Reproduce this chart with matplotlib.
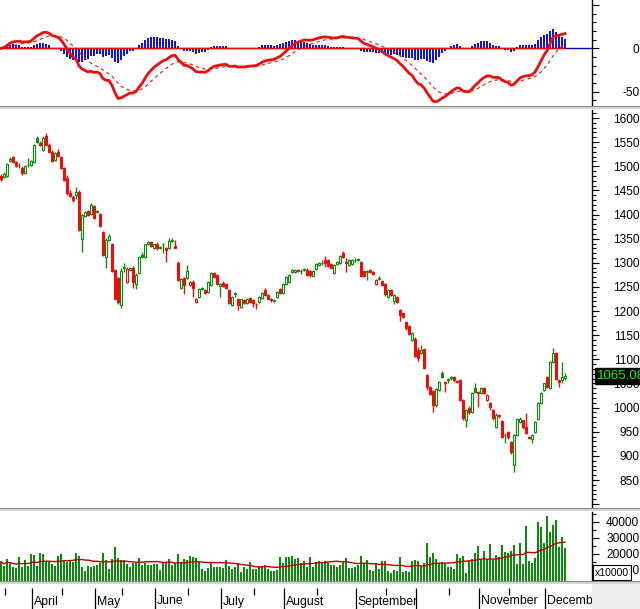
import numpy as np
import pandas as pd
import matplotlib
matplotlib.use("Agg")
import matplotlib.pyplot as plt
from matplotlib.patches import Rectangle

plt.rcParams['font.family'] = ['Liberation Sans', 'DejaVu Sans']

# ---- data ----
month_starts = [11, 32, 52, 74, 95, 119, 139, 160, 182]
month_labels = ['April', 'May', 'June', 'July', 'August', 'September', '', 'November', 'December']
minor_ticks = [2, 21, 41, 63, 85, 106, 129, 150, 170]

opens = [1480, 1478, 1480, 1511, 1519, 1508, 1502, 1497, 1487, 1503,
         1502, 1509, 1559, 1548, 1534, 1563, 1545, 1530, 1513, 1530,
         1519, 1497, 1475, 1444, 1437, 1440, 1447, 1350, 1398, 1407,
         1402, 1418, 1406, 1402, 1363, 1313, 1347, 1340, 1285, 1268,
         1213, 1290, 1260, 1286, 1290, 1257, 1278, 1317, 1313, 1339,
         1343, 1330, 1340, 1330, 1338, 1330, 1330, 1345, 1335, 1299,
         1248, 1268, 1268, 1255, 1260, 1219, 1229, 1245, 1244, 1240,
         1254, 1278, 1274, 1251, 1258, 1257, 1244, 1212, 1236, 1226,
         1209, 1223, 1216, 1228, 1222, 1215, 1219, 1228, 1244, 1233,
         1226, 1221, 1230, 1245, 1237, 1257, 1261, 1281, 1281, 1286,
         1283, 1285, 1285, 1283, 1273, 1288, 1296, 1300, 1306, 1305,
         1298, 1278, 1297, 1300, 1320, 1301, 1296, 1298, 1305, 1305,
         1302, 1282, 1281, 1285, 1281, 1256, 1267, 1263, 1256, 1230,
         1244, 1221, 1230, 1202, 1195, 1178, 1169, 1141, 1143, 1119,
         1114, 1121, 1067, 1043, 1035, 1005, 1036, 1072, 1054, 1058,
         1062, 1064, 1056, 1057, 1016, 974, 1000, 991, 1040, 1032,
         1030, 1041, 1016, 1010, 995, 960, 984, 972, 943, 950,
         929, 881, 943, 970, 974, 960, 939, 934, 950, 976,
         1009, 1037, 1063, 1040, 1095, 1114, 1057, 1058, 1062]
highs = [1484, 1489, 1506, 1520, 1522, 1510, 1506, 1500, 1503, 1517,
         1514, 1546, 1562, 1553, 1562, 1568, 1548, 1534, 1530, 1536,
         1521, 1499, 1482, 1450, 1440, 1457, 1450, 1402, 1407, 1410,
         1423, 1420, 1410, 1404, 1366, 1352, 1360, 1342, 1287, 1270,
         1290, 1300, 1292, 1292, 1293, 1278, 1315, 1322, 1340, 1346,
         1346, 1340, 1343, 1335, 1342, 1332, 1351, 1352, 1347, 1304,
         1268, 1270, 1295, 1262, 1265, 1228, 1247, 1250, 1246, 1263,
         1280, 1280, 1276, 1258, 1262, 1259, 1246, 1232, 1240, 1228,
         1226, 1225, 1228, 1230, 1226, 1217, 1232, 1240, 1247, 1235,
         1228, 1224, 1242, 1247, 1259, 1272, 1277, 1287, 1288, 1288,
         1288, 1290, 1290, 1286, 1286, 1299, 1301, 1305, 1314, 1307,
         1300, 1297, 1304, 1316, 1324, 1310, 1307, 1307, 1309, 1309,
         1304, 1284, 1285, 1287, 1283, 1266, 1272, 1265, 1258, 1246,
         1246, 1235, 1232, 1204, 1197, 1180, 1172, 1156, 1146, 1125,
         1130, 1123, 1069, 1045, 1037, 1040, 1056, 1076, 1056, 1062,
         1066, 1066, 1058, 1059, 1018, 998, 1003, 1032, 1050, 1034,
         1042, 1043, 1028, 1012, 997, 988, 986, 974, 948, 952,
         931, 945, 978, 980, 975, 988, 941, 945, 973, 1011,
         1033, 1052, 1066, 1097, 1123, 1116, 1059, 1095, 1072]
lows = [1470, 1475, 1478, 1508, 1506, 1499, 1497, 1482, 1485, 1498,
        1500, 1507, 1549, 1542, 1532, 1543, 1527, 1508, 1511, 1520,
        1495, 1469, 1440, 1436, 1426, 1433, 1365, 1322, 1395, 1398,
        1400, 1390, 1404, 1375, 1315, 1290, 1345, 1280, 1224, 1214,
        1207, 1280, 1258, 1283, 1248, 1245, 1276, 1310, 1311, 1337,
        1333, 1328, 1326, 1328, 1320, 1302, 1328, 1343, 1330, 1262,
        1246, 1236, 1266, 1252, 1230, 1216, 1227, 1243, 1236, 1238,
        1252, 1268, 1254, 1230, 1250, 1245, 1214, 1210, 1230, 1202,
        1207, 1215, 1214, 1217, 1208, 1205, 1217, 1226, 1231, 1224,
        1218, 1218, 1228, 1235, 1235, 1255, 1259, 1279, 1279, 1280,
        1277, 1283, 1273, 1271, 1271, 1286, 1294, 1296, 1292, 1292,
        1287, 1276, 1295, 1298, 1311, 1280, 1294, 1296, 1302, 1303,
        1271, 1270, 1265, 1278, 1275, 1254, 1264, 1252, 1231, 1228,
        1231, 1214, 1217, 1180, 1186, 1160, 1150, 1139, 1105, 1096,
        1112, 1081, 1037, 1026, 990, 1002, 1034, 1062, 1033, 1050,
        1058, 1054, 1050, 1014, 975, 960, 987, 989, 1031, 1002,
        1028, 1028, 1014, 996, 975, 957, 979, 938, 926, 935,
        903, 867, 941, 968, 955, 945, 934, 926, 948, 974,
        1007, 1035, 1041, 1038, 1093, 1057, 1042, 1052, 1058]
closes = [1473, 1485, 1504, 1516, 1509, 1501, 1503, 1487, 1501, 1502,
          1511, 1544, 1551, 1545, 1559, 1545, 1529, 1510, 1527, 1522,
          1497, 1471, 1444, 1439, 1430, 1447, 1368, 1399, 1405, 1400,
          1420, 1393, 1408, 1377, 1317, 1347, 1356, 1282, 1226, 1219,
          1283, 1292, 1288, 1289, 1261, 1275, 1313, 1313, 1338, 1343,
          1335, 1338, 1330, 1333, 1340, 1327, 1345, 1347, 1330, 1264,
          1266, 1255, 1282, 1260, 1247, 1226, 1245, 1248, 1238, 1261,
          1278, 1270, 1256, 1257, 1252, 1247, 1216, 1230, 1237, 1212,
          1224, 1217, 1226, 1219, 1217, 1214, 1230, 1238, 1233, 1226,
          1222, 1222, 1240, 1237, 1257, 1270, 1275, 1285, 1286, 1282,
          1283, 1288, 1275, 1274, 1284, 1297, 1299, 1300, 1299, 1294,
          1289, 1295, 1302, 1314, 1313, 1299, 1305, 1305, 1306, 1307,
          1273, 1272, 1283, 1280, 1277, 1264, 1268, 1254, 1236, 1244,
          1233, 1233, 1219, 1192, 1188, 1164, 1152, 1154, 1107, 1102,
          1119, 1083, 1043, 1028, 1005, 1038, 1054, 1064, 1052, 1060,
          1063, 1057, 1053, 1016, 978, 995, 990, 1030, 1033, 1031,
          1040, 1030, 1026, 1002, 978, 985, 983, 940, 944, 940,
          909, 943, 976, 976, 960, 948, 938, 943, 971, 1009,
          1031, 1050, 1043, 1095, 1114, 1059, 1054, 1063, 1065.08]
volumes = [15200, 12500, 16700, 14200, 12100, 11000, 17900, 11700, 16300, 12500,
           20000, 19400, 12500, 20400, 20000, 15200, 15200, 13800, 12500, 18750,
           20000, 16300, 15200, 16300, 15200, 20400, 18750, 11700, 9600, 12500,
           12100, 12500, 13100, 14200, 20400, 16300, 10400, 16700, 24200, 17300,
           16300, 16300, 13800, 11700, 14600, 14600, 17300, 13100, 14600, 13100,
           13100, 13800, 13800, 10000, 14200, 15200, 16700, 13100, 14600, 20000,
           15200, 16700, 16300, 18750, 17900, 17300, 15200, 10400, 9600, 11000,
           15200, 12100, 12100, 12100, 11000, 16300, 12500, 10400, 12100, 13800,
           8950, 12100, 10400, 15200, 10400, 10400, 12100, 12500, 13100, 10400,
           9600, 9600, 10000, 18300, 14600, 18300, 17900, 18750, 16700, 17300,
           14200, 15800, 12100, 17900, 12100, 15200, 15800, 15200, 15800, 15200,
           13100, 13100, 12100, 13100, 15200, 17300, 11000, 11000, 12100, 13100,
           18750, 14200, 16300, 10000, 9600, 14200, 10400, 15800, 15800, 9600,
           8300, 10000, 9600, 18300, 8950, 9600, 8950, 15800, 16300, 15800,
           12500, 14200, 27100, 18300, 20800, 16700, 14600, 15200, 14600, 12100,
           11700, 10400, 20000, 17300, 18750, 8300, 15800, 16700, 20400, 25000,
           16700, 22100, 16300, 26250, 16300, 19400, 18300, 25600, 21500, 20800,
           22100, 25600, 13800, 26700, 13800, 37500, 15800, 14200, 17300, 40200,
           37100, 26700, 43750, 34000, 38100, 41250, 24200, 30400, 23500]

n = len(closes)
x = np.arange(n)
o = np.array(opens, float)
h = np.array(highs, float)
l = np.array(lows, float)
c = np.array(closes, float)
prev = np.concatenate([[o[0]], c[:-1]])

GREEN = '#0b8a0b'
RED = '#e8100c'
cols = np.where(c >= prev, GREEN, RED)
faces = np.where(c >= o, 'white', cols)

cs = pd.Series(c)
macd = cs.ewm(span=12, adjust=False).mean() - cs.ewm(span=26, adjust=False).mean()
signal = macd.ewm(span=9, adjust=False).mean()
hist = macd - signal
vol_ma = pd.Series(volumes, dtype=float).rolling(20, min_periods=1).mean()

# ---- layout (pixel based) ----
FW, FH = 640, 609
fig = plt.figure(figsize=(FW / 100, FH / 100), dpi=100)
AXW = 592 / FW


def box(top, bottom):
    return [0, 1 - bottom / FH, AXW, (bottom - top) / FH]


ax_macd = fig.add_axes(box(0, 106))
ax_price = fig.add_axes(box(110, 508), sharex=ax_macd)
ax_vol = fig.add_axes(box(512, 581), sharex=ax_macd)
ax_date = fig.add_axes(box(584, 609), sharex=ax_macd)

for ax in (ax_macd, ax_price, ax_vol, ax_date):
    for s in ('left', 'top', 'bottom'):
        ax.spines[s].set_visible(False)
    ax.tick_params(axis='x', which='both', bottom=False, labelbottom=False)
for ax in (ax_macd, ax_price, ax_vol):
    ax.yaxis.tick_right()
    ax.spines['right'].set_linewidth(1.0)
    ax.tick_params(axis='y', which='major', length=5, width=0.8, pad=29, labelsize=8.6)
    ax.tick_params(axis='y', which='minor', length=3, width=0.8)
ax_date.spines['right'].set_visible(False)
ax_date.set_yticks([])

ax_macd.set_xlim(-0.33, 197)


def right_labels(ax, ticks, labels):
    ax.set_yticks(ticks)
    ax.set_yticklabels(labels)
    for t in ax.get_yticklabels():
        t.set_horizontalalignment('right')


# ---- MACD ----
ax_macd.axhline(0, color='#0000cc', lw=1, zorder=1)
ax_macd.bar(x, hist, width=0.5, color='#1414d2', zorder=2)
ax_macd.hlines(0, x[0], x[-1], colors=RED, lw=1, zorder=3)
ax_macd.plot(x, signal, color=RED, lw=0.8, ls=(0, (3, 3)), zorder=4)
ax_macd.plot(x, macd, color=RED, lw=2, zorder=5)
ax_macd.set_ylim(-66.6, 55.7)
right_labels(ax_macd, [-50, 0, 50], ['-50', '0', ''])
ax_macd.set_yticks(np.arange(-60, 51, 10), minor=True)

# ---- price candles ----
ax_price.vlines(x, l, h, colors=cols, lw=1, zorder=2)
body_h = np.maximum(np.abs(c - o), 0.6)
ax_price.bar(x, body_h, bottom=np.minimum(o, c), width=0.7,
             color=faces, edgecolor=cols, linewidth=0.8, zorder=3)
ax_price.set_ylim(792, 1616.6)
pt = np.arange(800, 1601, 50)
right_labels(ax_price, pt, [''] + [str(v) for v in pt[1:]])
ax_price.set_yticks(np.arange(800, 1611, 10), minor=True)
ax_price.text(1.009, c[-1], f'{c[-1]:.3f}', transform=ax_price.get_yaxis_transform(),
              color='#00ff00', fontsize=9.5, va='center', ha='left', clip_on=False, zorder=10,
              bbox=dict(boxstyle='square,pad=0.15', fc='black', ec='black'))

# ---- volume ----
ax_vol.bar(x, volumes, width=0.62, color='#0d8a0d', zorder=2)
ax_vol.plot(x, vol_ma, color='#c00000', lw=1, zorder=3)
ax_vol.set_ylim(3125, 46250)
right_labels(ax_vol, [10000, 20000, 30000, 40000], ['10000', '20000', '30000', '40000'])
ax_vol.set_yticks(np.arange(5000, 46000, 5000), minor=True)
fig.text(595 / FW, 1 - 572.5 / FH, 'x10000', fontsize=7.5, va='center', ha='left',
         bbox=dict(boxstyle='square,pad=0.2', fc='white', ec='black', lw=0.8), zorder=10)

# ---- date strip ----
ax_date.set_ylim(0, 1)
ms = np.array(month_starts) - 0.5
ax_date.vlines(ms, 0, 0.84, colors='black', lw=0.9)
ax_date.vlines(np.array(minor_ticks) - 0.5, 0.55, 0.84, colors='black', lw=0.9)
for m, lab in zip(ms, month_labels):
    ax_date.text(m + 0.4, 0.3, lab, fontsize=8.8, va='center', ha='left', clip_on=False)

# ---- separators and corner ----
for top in (106, 508, 580.5):
    fig.patches.append(Rectangle((0, 1 - (top + 3) / FH), 1, 3 / FH, transform=fig.transFigure,
                                 fc='#d4d4d4', ec='none', zorder=5))
    fig.patches.append(Rectangle((0, 1 - (top + 1) / FH), 1, 1 / FH, transform=fig.transFigure,
                                 fc='#8a8a8a', ec='none', zorder=6))
fig.patches.append(Rectangle((592 / FW, 0), 48 / FW, 25 / FH, transform=fig.transFigure,
                             fc='#ececec', ec='none', zorder=4))
fig.text(593 / FW, 1 - 588 / FH, '≡', fontsize=8, va='center', ha='left', family='DejaVu Sans')

fig.savefig('out.png', dpi=100)
